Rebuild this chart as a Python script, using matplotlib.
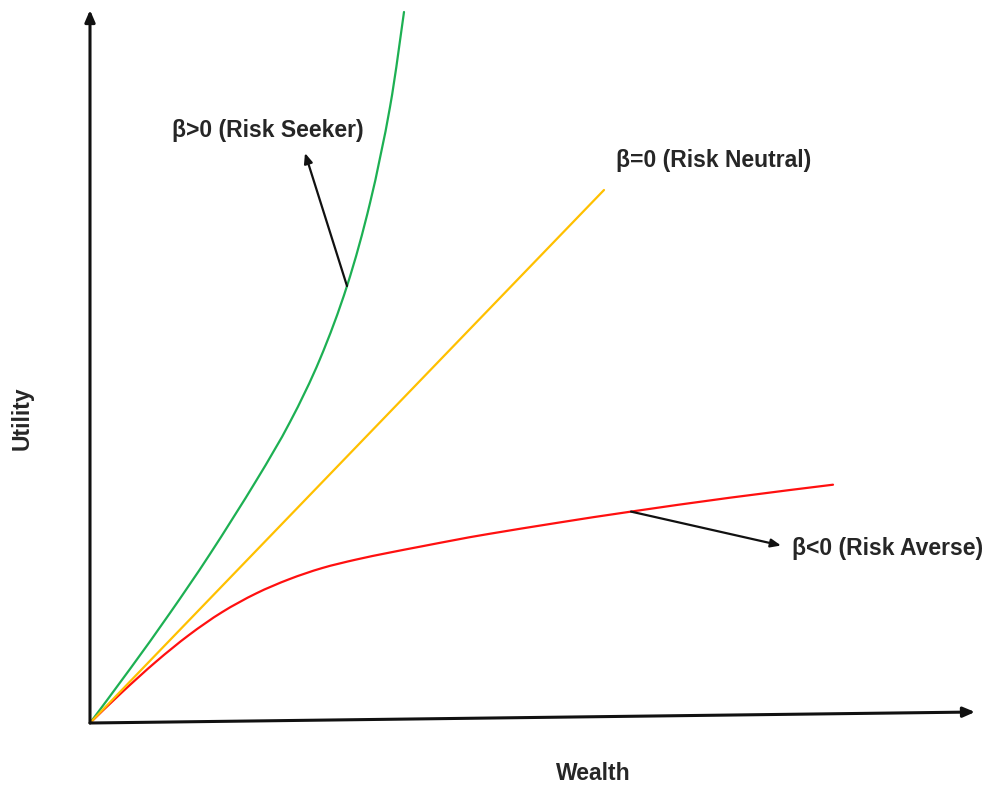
import matplotlib
matplotlib.use("Agg")
import matplotlib.pyplot as plt
from matplotlib.path import Path
from matplotlib.patches import PathPatch

# Utility curves (wealth, utility) in chart units
seeker_w = [0.00, 0.40, 0.80, 1.20, 1.66, 2.00, 2.30, 2.57, 2.80, 3.00, 3.14]
seeker_u = [0.00, 0.54, 1.10, 1.69, 2.42, 3.01, 3.64, 4.37, 5.20, 6.16, 7.11]

neutral_w = [0.00, 5.14]
neutral_u = [0.00, 5.33]

averse_w = [0.00, 0.32, 0.66, 0.99, 1.32, 1.66, 1.99, 2.32, 2.66, 2.99, 3.32, 3.66, 3.99, 4.70, 5.41, 6.40, 7.43]
averse_u = [0.00, 0.307, 0.613, 0.880, 1.108, 1.295, 1.437, 1.549, 1.634, 1.703, 1.767, 1.832, 1.891, 2.006, 2.114, 2.253, 2.383]

labels = ["β>0 (Risk Seeker)", "β=0 (Risk Neutral)", "β<0 (Risk Averse)"]
x_label = "Wealth"
y_label = "Utility"

GREEN = "#1DB053"
GOLD = "#FFC000"
RED = "#FF1010"
TEXT = "#262626"
FONT = ["Liberation Sans", "DejaVu Sans"]


def smooth_path(xs, ys):
    """Catmull-Rom curve through the points, as cubic Bezier segments."""
    pts = list(zip(xs, ys))
    n = len(pts)
    verts = [pts[0]]
    codes = [Path.MOVETO]
    for i in range(n - 1):
        p0 = pts[i - 1] if i > 0 else pts[i]
        p1 = pts[i]
        p2 = pts[i + 1]
        p3 = pts[i + 2] if i + 2 < n else pts[i + 1]
        c1 = (p1[0] + (p2[0] - p0[0]) / 6, p1[1] + (p2[1] - p0[1]) / 6)
        c2 = (p2[0] - (p3[0] - p1[0]) / 6, p2[1] - (p3[1] - p1[1]) / 6)
        verts += [c1, c2, p2]
        codes += [Path.CURVE4] * 3
    return Path(verts, codes)


fig = plt.figure(figsize=(9.87, 7.85), dpi=100)
ax = fig.add_axes([0, 0, 1, 1])
ax.set_xlim(-0.90, 8.97)
ax.set_ylim(-0.62, 7.23)
ax.axis("off")

# axes drawn as arrows from the origin
arrow_kw = dict(arrowstyle="-|>,head_length=0.7,head_width=0.3", color="#111111", lw=2.2,
                shrinkA=0, shrinkB=0)
ax.annotate("", xy=(8.85, 0.11), xytext=(0, 0), arrowprops=arrow_kw)
ax.annotate("", xy=(0, 7.13), xytext=(0, 0), arrowprops=arrow_kw)

for xs, ys, col in [(seeker_w, seeker_u, GREEN), (averse_w, averse_u, RED)]:
    ax.add_patch(PathPatch(smooth_path(xs, ys), facecolor="none", edgecolor=col,
                           lw=1.6, capstyle="round", joinstyle="round"))
ax.plot(neutral_w, neutral_u, color=GOLD, lw=1.6, solid_capstyle="round")

pointer_kw = dict(arrowstyle="-|>,head_length=0.6,head_width=0.25", color="#111111", lw=1.6,
                  shrinkA=0, shrinkB=0)
ax.annotate("", xy=(2.15, 5.70), xytext=(seeker_w[7], seeker_u[7]), arrowprops=pointer_kw)
ax.annotate("", xy=(6.91, 1.775), xytext=(averse_w[14], averse_u[14]), arrowprops=pointer_kw)

txt_kw = dict(family=FONT, fontweight="bold", fontsize=16.5, color=TEXT)
ax.text(0.82, 5.93, labels[0], ha="left", va="center", **txt_kw)
ax.text(5.26, 5.62, labels[1], ha="left", va="center", **txt_kw)
ax.text(7.02, 1.74, labels[2], ha="left", va="center", **txt_kw)

ax.text(5.03, -0.50, x_label, ha="center", va="center", **txt_kw)
ax.text(-0.68, 3.05, y_label, ha="center", va="center", rotation=90, **txt_kw)

fig.savefig("out.png", dpi=100)
